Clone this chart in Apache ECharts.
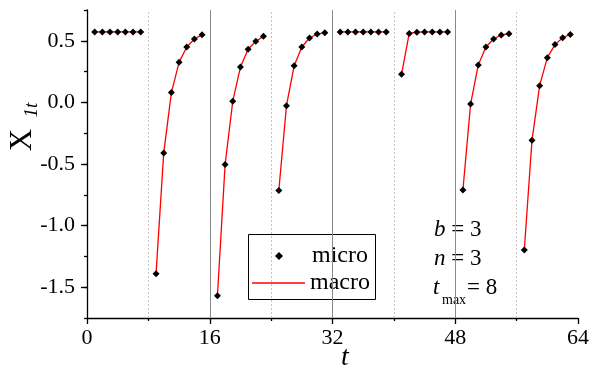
<!DOCTYPE html>
<html>
<head>
<meta charset="utf-8">
<script src="https://cdn.jsdelivr.net/npm/echarts@6/dist/echarts.min.js"></script>
<style>
html,body{margin:0;padding:0;background:#fff;}
#chart{width:592px;height:366px;}
</style>
</head>
<body>
<div id="chart"></div>
<script>
// ---- data ----
const segmentStartT = [1, 9, 17, 25, 33, 41, 49, 57];
const segment1 = [0.572, 0.572, 0.572, 0.572, 0.572, 0.572, 0.572];
const segment2 = [-1.39, -0.41, 0.08, 0.325, 0.45, 0.515, 0.55];
const segment3 = [-1.57, -0.505, 0.01, 0.287, 0.431, 0.496, 0.536];
const segment4 = [-0.716, -0.027, 0.298, 0.45, 0.523, 0.555, 0.566];
const segment5 = [0.572, 0.572, 0.572, 0.572, 0.572, 0.572, 0.572];
const segment6 = [0.228, 0.56, 0.57, 0.572, 0.572, 0.572, 0.572];
const segment7 = [-0.711, -0.014, 0.304, 0.45, 0.515, 0.547, 0.558];
const segment8 = [-1.198, -0.308, 0.136, 0.363, 0.469, 0.525, 0.551];
const segments = [segment1, segment2, segment3, segment4, segment5, segment6, segment7, segment8];
const xTickLabels = [0, 16, 32, 48, 64];
const yTickLabels = [-1.5, -1.0, -0.5, 0.0, 0.5];
const solidSeparators = [16, 32, 48];
const dottedSeparators = [8, 24, 40, 56];

// ---- build series data ----
const microData = [];
const macroData = [];
segments.forEach((seg, i) => {
  seg.forEach((v, j) => {
    microData.push([segmentStartT[i] + j, v]);
    macroData.push([segmentStartT[i] + j, v]);
  });
  if (i < segments.length - 1) macroData.push([segmentStartT[i] + seg.length, '-']);
});

const SERIF = '"Liberation Serif", "Times New Roman", serif';
const chart = echarts.init(document.getElementById('chart'), null, {renderer: 'canvas'});

const markLineData = [];
dottedSeparators.forEach(x => markLineData.push({xAxis: x, lineStyle: {type: [2, 2], color: '#c4c4c4', width: 1}}));
solidSeparators.forEach(x => markLineData.push({xAxis: x, lineStyle: {type: 'solid', color: '#8a8a8a', width: 1}}));

chart.setOption({
  animation: false,
  backgroundColor: '#fff',
  grid: {left: 87, right: 14, top: 10, bottom: 48, containLabel: false},
  xAxis: {
    type: 'value', min: 0, max: 64, interval: 16,
    axisLine: {show: true, onZero: false, lineStyle: {color: '#000', width: 1.3}},
    axisTick: {show: true, inside: false, length: 6, lineStyle: {color: '#000', width: 1.3}},
    minorTick: {show: true, splitNumber: 2, length: 3, lineStyle: {color: '#000', width: 1.3}},
    splitLine: {show: false},
    axisLabel: {
      color: '#000', fontFamily: SERIF, fontSize: 22, margin: 9,
      customValues: xTickLabels,
      formatter: v => String(v)
    }
  },
  yAxis: [{
    type: 'value', min: -1.75, max: 0.75, interval: 0.25,
    axisLine: {show: true, onZero: false, lineStyle: {color: '#000', width: 1.3}},
    axisTick: {show: true, inside: false, length: 3, lineStyle: {color: '#000', width: 1.3}},
    splitLine: {show: false},
    axisLabel: {
      color: '#000', fontFamily: SERIF, fontSize: 22, margin: 12,
      formatter: v => {
        const r = Math.round(v * 2);
        if (Math.abs(v * 2 - r) > 1e-6) return '';
        return yTickLabels.some(t => Math.abs(t - v) < 1e-6) ? v.toFixed(1) : '';
      }
    }
  }, {
    type: 'value', min: -1.75, max: 0.75, interval: 0.25, position: 'left', offset: 0,
    axisLine: {show: false},
    axisTick: {show: true, inside: false, length: 6, customValues: yTickLabels, lineStyle: {color: '#000', width: 1.3}},
    axisLabel: {show: false},
    splitLine: {show: false}
  }],
  legend: [{
    data: [{name: 'micro', icon: 'diamond'}],
    left: 275, top: 244, padding: 0, itemWidth: 8, itemHeight: 8,
    selectedMode: false,
    itemStyle: {opacity: 1},
    textStyle: {fontFamily: SERIF, fontSize: 24, color: '#000', padding: [0, 0, 0, 24]}
  }, {
    data: [{name: 'macro', icon: 'rect'}],
    left: 252, top: 271, padding: 0, itemWidth: 53, itemHeight: 1.5,
    selectedMode: false,
    textStyle: {fontFamily: SERIF, fontSize: 24, color: '#000'}
  }],
  series: [{
    name: 'macro', type: 'line', data: macroData, connectNulls: false,
    showSymbol: false, symbol: 'none',
    lineStyle: {color: '#ff0000', width: 1.3},
    itemStyle: {color: '#ff0000'},
    z: 2,
    markLine: {
      silent: true, symbol: ['none', 'none'], label: {show: false},
      data: markLineData
    }
  }, {
    name: 'micro', type: 'scatter', data: microData,
    symbol: 'diamond', symbolSize: 7,
    itemStyle: {color: '#000', opacity: 1},
    z: 3
  }],
  graphic: [
    {type: 'rect', z: 3, shape: {x: 248.5, y: 234.5, width: 127, height: 65}, style: {fill: '#fff', stroke: '#000', lineWidth: 1}},
    {type: 'rect', z: 3, shape: {x: 425, y: 212, width: 85, height: 100}, style: {fill: '#fff'}},
    {type: 'text', z: 5, x: 434, y: 230, style: {text: '{i|b}{r| = 3}', verticalAlign: 'middle', align: 'left',
      rich: {i: {fontFamily: SERIF, fontStyle: 'italic', fontSize: 23, fill: '#000'}, r: {fontFamily: SERIF, fontSize: 23, fill: '#000'}}}},
    {type: 'text', z: 5, x: 434, y: 259, style: {text: '{i|n}{r| = 3}', verticalAlign: 'middle', align: 'left',
      rich: {i: {fontFamily: SERIF, fontStyle: 'italic', fontSize: 23, fill: '#000'}, r: {fontFamily: SERIF, fontSize: 23, fill: '#000'}}}},
    {type: 'text', z: 5, x: 433, y: 288, style: {text: 't', verticalAlign: 'middle', align: 'left', fontFamily: SERIF, fontStyle: 'italic', fontSize: 23, fill: '#000'}},
    {type: 'text', z: 5, x: 442, y: 300, style: {text: 'max', verticalAlign: 'middle', align: 'left', fontFamily: SERIF, fontSize: 14, fill: '#000'}},
    {type: 'text', z: 5, x: 467, y: 288, style: {text: '= 8', verticalAlign: 'middle', align: 'left', fontFamily: SERIF, fontSize: 23, fill: '#000'}},
    {type: 'text', z: 5, x: 23, y: 140, rotation: Math.PI / 2, style: {text: 'X', verticalAlign: 'middle', align: 'center', fontFamily: SERIF, fontSize: 31, fill: '#000'}},
    {type: 'text', z: 5, x: 32, y: 110, rotation: Math.PI / 2, style: {text: '1t', verticalAlign: 'middle', align: 'center', fontFamily: SERIF, fontStyle: 'italic', fontSize: 19, fill: '#000'}},
    {type: 'text', z: 5, x: 345, y: 358, style: {text: 't', verticalAlign: 'middle', align: 'center', fontFamily: SERIF, fontStyle: 'italic', fontSize: 28, fill: '#000'}}
  ]
});
</script>
</body>
</html>
